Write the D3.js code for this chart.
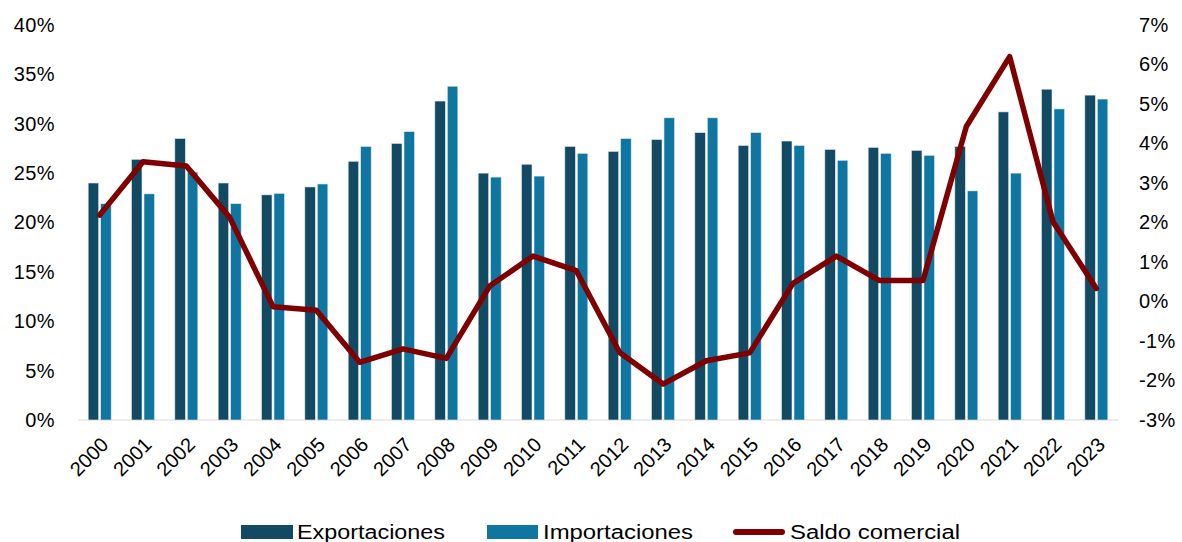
<!DOCTYPE html>
<html><head><meta charset="utf-8">
<script src="https://cdn.jsdelivr.net/npm/d3@7"></script>
<style>body{margin:0;background:#fff;} svg{display:block;font-family:"Liberation Sans",Arial,sans-serif;}</style>
</head><body><svg id="c" width="1182" height="542"></svg>
<script>
const years = ["2000","2001","2002","2003","2004","2005","2006","2007","2008","2009","2010","2011","2012","2013","2014","2015","2016","2017","2018","2019","2020","2021","2022","2023"];
const exportaciones = [24.0,26.4,28.5,24.0,22.8,23.6,26.2,28.0,32.3,25.0,25.9,27.7,27.2,28.4,29.1,27.8,28.25,27.4,27.6,27.3,27.7,31.2,33.5,32.9];
const importaciones = [21.9,22.9,25.1,21.9,22.95,23.9,27.7,29.2,33.8,24.6,24.7,27.0,28.5,30.6,30.6,29.1,27.8,26.3,27.0,26.8,23.2,25.0,31.5,32.5];
const saldo = [2.19,3.54,3.43,2.13,-0.13,-0.22,-1.54,-1.20,-1.44,0.39,1.15,0.78,-1.29,-2.09,-1.50,-1.30,0.46,1.15,0.53,0.53,4.43,6.20,2.02,0.33];
const leftTicks = [0,5,10,15,20,25,30,35,40];
const rightTicks = [-3,-2,-1,0,1,2,3,4,5,6,7];
const seriesNames = ["Exportaciones","Importaciones","Saldo comercial"];
const colors = {exp:"#134a63", imp:"#0e76a0", line:"#7f0000"};

const svg = d3.select("#c");
const x0 = 78, x1 = 1118, yTop = 25, yBot = 420;
const x = d3.scaleBand().domain(years).range([x0,x1]).paddingInner(0).paddingOuter(0);
const yL = d3.scaleLinear().domain([0,40]).range([yBot,yTop]);
const yR = d3.scaleLinear().domain([-3,7]).range([yBot,yTop]);
const bw = 10.5, gap = 2;

// baseline
svg.append("line").attr("x1",x0).attr("x2",x1).attr("y1",yBot).attr("y2",yBot).attr("stroke","#d9d9d9").attr("stroke-width",1.2);

// left axis
const gL = svg.append("g").attr("transform",`translate(55,0)`)
  .call(d3.axisLeft(yL).tickValues(leftTicks).tickFormat(d=>d+"%").tickSize(0).tickPadding(0));
gL.select(".domain").remove();
gL.selectAll("text").attr("font-size",20).attr("fill","#000").attr("font-family","Liberation Sans, Arial, sans-serif").attr("letter-spacing","0.4px");

// right axis
const gR = svg.append("g").attr("transform",`translate(1139,0)`)
  .call(d3.axisRight(yR).tickValues(rightTicks).tickFormat(d=>d+"%").tickSize(0).tickPadding(0));
gR.select(".domain").remove();
gR.selectAll("text").attr("font-size",20).attr("fill","#000").attr("font-family","Liberation Sans, Arial, sans-serif").attr("letter-spacing","0.4px");

// bars
const cx = d => x(d) + x.bandwidth()/2;
svg.append("g").selectAll("rect").data(years).join("rect")
  .attr("x",(d)=>cx(d)-gap/2-bw).attr("width",bw)
  .attr("y",(d,i)=>yL(exportaciones[i])).attr("height",(d,i)=>yBot-yL(exportaciones[i]))
  .attr("fill",colors.exp).attr("stroke","#dfe8ec").attr("stroke-width",0.6);
svg.append("g").selectAll("rect").data(years).join("rect")
  .attr("x",(d)=>cx(d)+gap/2).attr("width",bw)
  .attr("y",(d,i)=>yL(importaciones[i])).attr("height",(d,i)=>yBot-yL(importaciones[i]))
  .attr("fill",colors.imp).attr("stroke","#dfe8ec").attr("stroke-width",0.6);

// line
const line = d3.line().x((d,i)=>cx(years[i])).y(d=>yR(d));
svg.append("path").datum(saldo).attr("d",line).attr("fill","none")
  .attr("stroke",colors.line).attr("stroke-width",5.5).attr("stroke-linejoin","round").attr("stroke-linecap","round");

// x labels
svg.append("g").selectAll("text").data(years).join("text")
  .attr("transform",d=>`translate(${cx(d)+5},${441}) rotate(-45)`)
  .attr("text-anchor","end").attr("dy","0.35em")
  .attr("font-size",20).attr("fill","#000").text(d=>d);

// legend
const lg = svg.append("g").attr("font-size",20).attr("fill","#000");
lg.append("rect").attr("x",241).attr("y",525).attr("width",52).attr("height",14).attr("fill",colors.exp);
lg.append("text").attr("x",297).attr("y",539).text(seriesNames[0]).attr("textLength",148).attr("lengthAdjust","spacingAndGlyphs");
lg.append("rect").attr("x",487).attr("y",525).attr("width",51).attr("height",14).attr("fill",colors.imp);
lg.append("text").attr("x",543).attr("y",539).text(seriesNames[1]).attr("textLength",150).attr("lengthAdjust","spacingAndGlyphs");
lg.append("line").attr("x1",736).attr("x2",782).attr("y1",532).attr("y2",532).attr("stroke",colors.line).attr("stroke-width",6).attr("stroke-linecap","round");
lg.append("text").attr("x",790).attr("y",539).text(seriesNames[2]).attr("textLength",170).attr("lengthAdjust","spacingAndGlyphs");
</script></body></html>
